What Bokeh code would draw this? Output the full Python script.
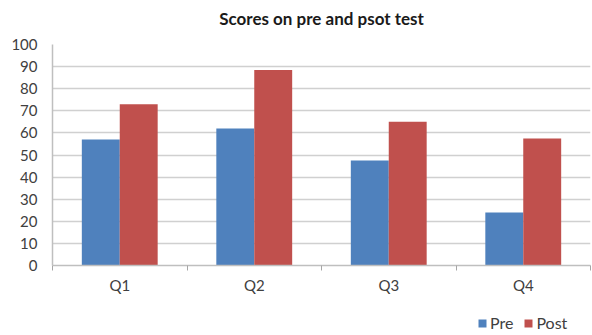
from bokeh.plotting import figure
from bokeh.layouts import column
from bokeh.models import ColumnDataSource, Range1d, FixedTicker, Legend, LegendItem, Title
from bokeh.transform import dodge
from bokeh.embed import file_html
from bokeh.resources import INLINE

# Chart data
quarters = ["Q1", "Q2", "Q3", "Q4"]
pre_scores = [57, 62, 47.5, 24]
post_scores = [73, 88.5, 65, 57.5]
series = ["Pre", "Post"]
y_ticks = list(range(0, 101, 10))

FONT = "Lato"
PRE_COLOR = "#4f81bd"
POST_COLOR = "#c0504d"
GRID_COLOR = "#d0d0d0"
TEXT_COLOR = "#404040"

# each quarter sits in a unit-wide slot centred on i + 0.5
centers = [i + 0.5 for i in range(len(quarters))]
source = ColumnDataSource(dict(x=centers, pre=pre_scores, post=post_scores))

p = figure(width=592, height=305, output_backend="svg", toolbar_location=None,
           x_range=Range1d(0, len(quarters)), y_range=Range1d(0, 100),
           min_border_left=52, min_border_right=2, min_border_top=44, min_border_bottom=40)
p.outline_line_color = None
p.background_fill_color = "white"
p.border_fill_color = "white"

# blank strip between the frame and the title, then the title itself
p.title = None
p.add_layout(Title(text=" ", text_font_size="2px", standoff=9), "above")
p.add_layout(Title(text="Scores on pre and psot test", align="center",
                   vertical_align="middle", text_font=FONT, text_font_style="bold",
                   text_font_size="17px", text_color="#1a1a1a", standoff=4), "above")

bar_w = 0.282
bar_specs = [(-bar_w / 2, "pre", PRE_COLOR), (bar_w / 2, "post", POST_COLOR)]
for off, col, color in bar_specs:
    p.vbar(x=dodge("x", off, range=p.x_range), top=col, width=bar_w, bottom=0,
           source=source, fill_color=color, line_color=None)

# x axis: quarter labels at slot centres, small marks at slot boundaries
p.xaxis.ticker = FixedTicker(ticks=centers, minor_ticks=list(range(len(quarters) + 1)))
p.xaxis.major_label_overrides = {c: q for c, q in zip(centers, quarters)}
p.xaxis.major_tick_out = 0
p.xaxis.major_tick_in = 0
p.xaxis.minor_tick_out = 5
p.xaxis.minor_tick_in = 0
p.xaxis.minor_tick_line_color = "#a6a6a6"
p.xaxis.axis_line_color = "#bfbfbf"
p.xaxis.axis_line_width = 1.5
p.xaxis.major_label_standoff = 5
p.xaxis.axis_label_standoff = 0
p.xaxis.major_label_text_font = FONT
p.xaxis.major_label_text_font_size = "15px"
p.xaxis.major_label_text_color = TEXT_COLOR
p.xgrid.grid_line_color = None

# y axis
p.yaxis.ticker = FixedTicker(ticks=y_ticks, minor_ticks=[])
p.yaxis.major_tick_out = 0
p.yaxis.major_tick_in = 0
p.yaxis.axis_line_color = "#bfbfbf"
p.yaxis.axis_line_width = 1.5
p.yaxis.major_label_standoff = 15
p.yaxis.major_label_text_font = FONT
p.yaxis.major_label_text_font_size = "15px"
p.yaxis.major_label_text_color = TEXT_COLOR
p.ygrid.ticker = FixedTicker(ticks=y_ticks)
p.ygrid.grid_line_color = GRID_COLOR
p.ygrid.grid_line_width = 1.5

# legend strip under the chart; its swatches come from bars kept far outside the view
leg = figure(width=592, height=30, output_backend="svg", toolbar_location=None,
             x_range=Range1d(1000, 1001), y_range=Range1d(5000, 5001), min_border=0)
leg.axis.visible = False
leg.grid.grid_line_color = None
leg.outline_line_color = None
leg.background_fill_color = "white"
leg.border_fill_color = "white"
items = []
for (off, col, color), name in zip(bar_specs, series):
    r = leg.vbar(x=dodge("x", off, range=leg.x_range), top=col, width=bar_w, bottom=0,
                 source=source, fill_color=color, line_color=None)
    items.append(LegendItem(label=name, renderers=[r]))
legend = Legend(items=items, location=(425, 3), orientation="horizontal",
                glyph_width=10, glyph_height=10, label_standoff=3, spacing=10,
                padding=0, margin=0, border_line_color=None, background_fill_alpha=0,
                label_text_font=FONT, label_text_font_size="16px",
                label_text_color=TEXT_COLOR, label_height=14)
leg.add_layout(legend)

open("out.html", "w").write(file_html(column(p, leg, spacing=0), INLINE))
